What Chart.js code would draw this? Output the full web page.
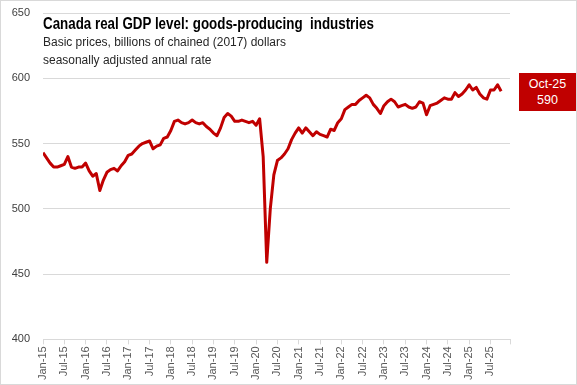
<!DOCTYPE html>
<html>
<head>
<meta charset="utf-8">
<script src="https://cdn.jsdelivr.net/npm/chart.js@4"></script>
<style>
  html, body { margin: 0; padding: 0; background: #fff; }
  #wrap {
    position: relative; width: 577px; height: 385px;
    box-sizing: border-box; border: 1px solid #d9d9d9; overflow: hidden;
  }
  #chart { position: absolute; left: 0; top: 0; }
  .txt { position: absolute; font-family: "Liberation Sans", Arial, sans-serif; white-space: pre; transform-origin: 0 0; }
  #title { left: 42px; top: 14px; font-size: 16px; font-weight: bold; color: #000; line-height: 18px; transform: scaleX(0.835); }
  #sub { left: 42px; top: 32px; font-size: 12.5px; color: #262626; line-height: 18px; transform: scaleX(0.958); }
  #last {
    position: absolute; left: 518px; top: 72px; width: 57px; height: 38px;
    background: #c00000; color: #fff; text-align: center;
    font-family: "Liberation Sans", Arial, sans-serif; font-size: 12.5px; line-height: 16px;
    padding-top: 3px; box-sizing: border-box;
  }
</style>
</head>
<body>
<div id="wrap">
  <canvas id="chart" width="575" height="383"></canvas>
  <div class="txt" id="title">Canada real GDP level: goods-producing  industries</div>
  <div class="txt" id="sub">Basic prices, billions of chained (2017) dollars
seasonally adjusted annual rate</div>
  <div id="last">Oct-25<br>590</div>
</div>
<script>
// Mois (Jan-15 à Oct-25)
const monthNames = ['Jan', 'Feb', 'Mar', 'Apr', 'May', 'Jun', 'Jul', 'Aug', 'Sep', 'Oct', 'Nov', 'Dec'];
const months = [];
for (let y = 15; y <= 25; y++) {
    for (let m = 0; m < 12; m++) {
        months.push(monthNames[m] + '-' + y);
    }
}

// PIB réel, secteur des biens (milliards de $ enchaînés de 2017)
const gdpGoods = [
    543, 539, 535, 532, 532, 533, 534, 540, 532, 531, 532, 532,   // 2015
    535, 529, 525, 527, 514, 522, 528, 530, 531, 529, 533, 536,   // 2016
    541, 542, 545, 548, 550, 551, 552, 546, 548, 549, 554, 555,   // 2017
    560, 567, 568, 566, 565, 566, 568, 566, 565, 566, 563, 561,   // 2018
    558, 556, 562, 570, 573, 571, 567, 567, 568, 567, 566, 567,   // 2019
    564, 569, 540, 459, 500, 526, 537, 539, 542, 546, 553, 558,   // 2020
    562, 558, 562, 559, 556, 559, 557, 556, 555, 561, 560, 566,   // 2021
    569, 576, 578, 580, 580, 583, 585, 587, 585, 580, 577, 573,   // 2022
    579, 582, 584, 582, 578, 579, 580, 578, 577, 578, 582, 581,   // 2023
    572, 579, 580, 581, 583, 585, 584, 584, 589, 586, 588, 591,   // 2024
    595, 591, 593, 588, 585, 584, 591, 591, 595, 590              // 2025
];

const yTicks = [400, 450, 500, 550, 600, 650];
const labelEvery = 6;

const points = gdpGoods.map((v, i) => ({ x: i, y: v }));
const tickFont = { family: '"Liberation Sans", Arial, sans-serif', size: 11 };

const ctx = document.getElementById('chart').getContext('2d');
const chart = new Chart(ctx, {
    type: 'line',
    data: {
        datasets: [{
            data: points,
            borderColor: '#c00000',
            borderWidth: 3,
            pointRadius: 0,
            tension: 0,
            borderJoinStyle: 'round'
        }]
    },
    options: {
        responsive: false,
        animation: false,
        devicePixelRatio: 1,
        layout: { padding: { left: 10, right: 66, top: 12, bottom: 2 } },
        plugins: {
            legend: { display: false },
            tooltip: { enabled: false }
        },
        scales: {
            x: {
                type: 'linear',
                min: 0,
                max: 131.5,
                afterBuildTicks: axis => {
                    const t = [];
                    for (let i = 0; i < months.length; i += labelEvery) t.push({ value: i });
                    t.push({ value: 131.5 });
                    axis.ticks = t;
                },
                afterFit: axis => { axis.paddingLeft = 0; axis.paddingRight = 0; },
                ticks: {
                    autoSkip: false,
                    maxRotation: 90,
                    minRotation: 90,
                    padding: 2,
                    color: '#595959',
                    font: tickFont,
                    callback: v => (Number.isInteger(v) && v < gdpGoods.length) ? months[v] : ''
                },
                grid: { drawOnChartArea: false, drawTicks: true, tickLength: 5, color: '#d9d9d9' },
                border: { color: '#d9d9d9' }
            },
            y: {
                min: 400,
                max: 650,
                afterBuildTicks: axis => { axis.ticks = yTicks.map(v => ({ value: v })); },
                afterFit: axis => { axis.paddingTop = 0; axis.paddingBottom = 0; axis.width = 32; },
                ticks: { padding: 13, color: '#404040', font: tickFont },
                grid: { color: '#d9d9d9', drawTicks: false },
                border: { display: false }
            }
        }
    }
});
</script>
</body>
</html>
